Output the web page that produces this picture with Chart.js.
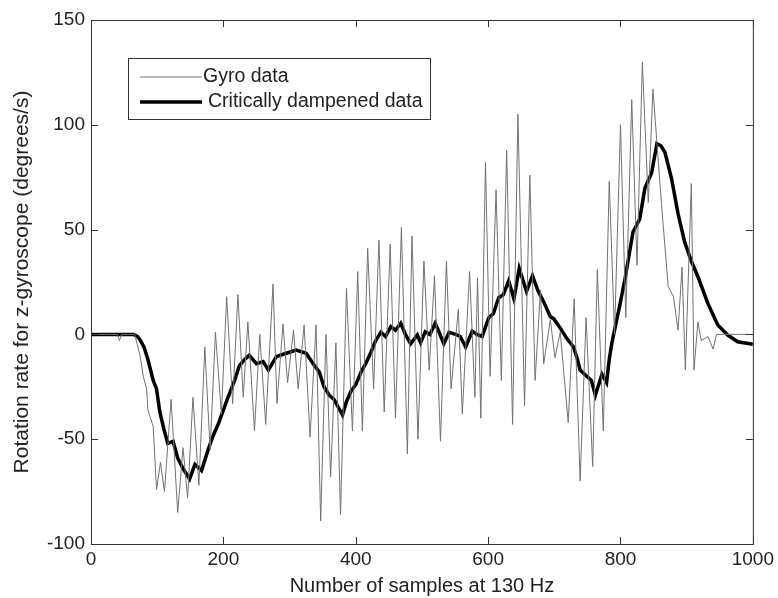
<!DOCTYPE html>
<html>
<head>
<meta charset="utf-8">
<script src="https://cdn.jsdelivr.net/npm/chart.js@4/dist/chart.umd.min.js"></script>
<style>
  body { margin: 0; background: #fff; }
  canvas { display: block; }
</style>
</head>
<body>
<canvas id="gyroChart" width="778" height="598"></canvas>
<script>
// Gyro readings (peaks / troughs)
const gyroSamples = [0, 40, 43, 46, 66, 74, 79, 84, 86, 94, 99, 105, 111, 121, 131, 139, 146, 154, 163, 172,
  180, 188, 197, 205, 214, 222, 230, 237, 247, 255, 264, 275, 281, 290, 297, 306, 313, 322, 331, 340,
  347, 355, 362, 370, 377, 386, 395, 403, 410, 418, 427, 435, 443, 452, 460, 469, 478, 485, 494, 503,
  511, 519, 528, 537, 544, 555, 561, 572, 580, 584, 589, 596, 603, 612, 620, 628, 637, 645, 655, 663,
  671, 679, 684, 694, 701, 709, 721, 730, 739, 748, 758, 765, 774, 783, 791, 800, 808, 817, 825, 833,
  842, 849, 862, 872, 880, 887, 893, 898, 907, 911, 917, 922, 932, 940, 945, 1000];
const gyroRate = [0, 0, -3, 0, 0, -10, -20, -26, -36, -44, -74, -61, -75, -31, -85, -54, -78, -30, -72, -6,
  -55, 1, -38, 18, -33, 19, -30, 6, -46, 0, -43, 24, -33, 5, -23, 2, -26, 4.5, -49, 4.5,
  -89, 0, -68, -4, -86, 22, -46, 30, -46, 41, -26, 45, -37, 43, -40, 51, -57, 47, -50, 35,
  -17, 28, -51, 35, -26, 12, -38, 30, -30, 27, -40, 82, -20, 69, -22, 88, -43, 105, -34, 76,
  -22, 21, -14, 7, -11, 1, -42, 17, -70, 8, -63, 31, -46, 73, 0, 100, 8, 112, 33, 130,
  63, 117, 62, 23, 18, 2, 32, -17, 72, -17, 6, -3, -1, -7, 0, 0];

// Critically dampened output
const dampSamples = [0, 64, 70, 74, 80, 86, 94, 99, 104, 110, 116, 124, 131, 139, 149, 157, 167, 177, 185, 192,
  199, 207, 217, 224, 232, 239, 250, 260, 268, 280, 295, 310, 325, 337, 345, 352, 360, 367, 374, 380,
  386, 393, 400, 408, 415, 423, 430, 438, 445, 453, 460, 468, 475, 483, 493, 498, 505, 512, 520, 526,
  533, 541, 551, 558, 566, 576, 583, 591, 601, 608, 616, 623, 631, 639, 647, 658, 667, 675, 684, 694,
  699, 709, 719, 729, 735, 739, 749, 756, 762, 767, 772, 779, 783, 787, 793, 799, 807, 813, 819, 829,
  837, 847, 855, 861, 867, 877, 887, 897, 907, 917, 932, 947, 962, 977, 1000];
const dampRate = [0, 0, -1, -2.5, -6, -12, -22, -26, -37, -45, -52, -51, -59, -64, -69, -62, -65, -55, -48, -43,
  -37, -30, -22, -15, -12, -10, -14, -13, -17, -10.6, -9, -7.5, -9, -14.6, -18, -25, -29, -31, -35, -38.5,
  -32, -27, -24, -18, -14, -8.5, -3, 1, -1, 3.7, 2, 5.3, 0, -4.5, -0.3, -4, 1.3, 0, 5.3, 1,
  -4.5, 1, 0, -1, -6, 1.5, 0, -1, 8, 10, 17.5, 19, 25.5, 17, 31.5, 20.5, 28, 21, 15.5, 8.4,
  7.5, 3, -2, -6, -12, -17, -20, -22, -29, -24, -19, -23, -12, -4, 5, 14, 26.8, 38, 49, 55,
  70, 77, 91, 90, 87, 74.5, 57.5, 44, 35, 27.5, 14.8, 4.5, -0.3, -3.5, -4.7];

const xTicks = [0, 200, 400, 600, 800, 1000];
const yTicks = [-100, -50, 0, 50, 100, 150];

const FONT = "'Liberation Sans', Arial, sans-serif";
const TEXT = '#222';

const toPoints = (xs, ys) => xs.map((x, i) => ({ x: x, y: ys[i] }));

// box round the plot plus inward ticks on all four sides
const frame = {
  id: 'frame',
  afterDraw(chart) {
    const { ctx, chartArea: a, scales } = chart;
    const len = 7;
    ctx.save();
    ctx.strokeStyle = '#333';
    ctx.lineWidth = 1;
    ctx.strokeRect(a.left + 0.5, a.top + 0.5, a.right - a.left, a.bottom - a.top);
    ctx.beginPath();
    xTicks.forEach(v => {
      const px = Math.round(scales.x.getPixelForValue(v)) + 0.5;
      ctx.moveTo(px, a.bottom); ctx.lineTo(px, a.bottom - len);
      ctx.moveTo(px, a.top); ctx.lineTo(px, a.top + len);
    });
    yTicks.forEach(v => {
      const py = Math.round(scales.y.getPixelForValue(v)) + 0.5;
      ctx.moveTo(a.left, py); ctx.lineTo(a.left + len, py);
      ctx.moveTo(a.right, py); ctx.lineTo(a.right - len, py);
    });
    ctx.stroke();

    // legend box, top left inside the plot
    const bx = 128, by = 58, bw = 302, bh = 61;
    ctx.fillStyle = '#fff';
    ctx.fillRect(bx, by, bw, bh);
    ctx.strokeStyle = '#333';
    ctx.strokeRect(bx + 0.5, by + 0.5, bw, bh);
    ctx.font = '19.5px ' + FONT;
    ctx.textBaseline = 'middle';
    ctx.fillStyle = TEXT;
    chart.data.datasets.forEach((ds, i) => {
      const y = 77 + i * 25;
      ctx.strokeStyle = ds.borderColor;
      ctx.lineWidth = ds.borderWidth;
      ctx.beginPath();
      ctx.moveTo(140, y); ctx.lineTo(202, y);
      ctx.stroke();
      ctx.fillText(ds.label, 203 + i * 5, y);
    });
    ctx.restore();
  }
};

new Chart(document.getElementById('gyroChart'), {
  type: 'line',
  data: {
    datasets: [
      {
        label: 'Gyro data',
        data: toPoints(gyroSamples, gyroRate),
        borderColor: '#727272',
        borderWidth: 1,
        pointRadius: 0,
        tension: 0
      },
      {
        label: 'Critically dampened data',
        data: toPoints(dampSamples, dampRate),
        borderColor: '#000',
        borderWidth: 3.5,
        pointRadius: 0,
        tension: 0
      }
    ]
  },
  options: {
    responsive: false,
    animation: false,
    layout: { padding: { left: 0, right: 23, top: 20, bottom: 0 } },
    plugins: { legend: { display: false }, tooltip: { enabled: false } },
    scales: {
      x: {
        type: 'linear',
        min: 0, max: 1000,
        grid: { display: false, drawTicks: false },
        border: { display: false },
        afterBuildTicks: s => { s.ticks = xTicks.map(v => ({ value: v })); },
        afterFit: s => { s.height = 54; },
        ticks: { color: TEXT, font: { family: FONT, size: 19 }, padding: 4, maxRotation: 0,
          callback: v => String(v) },
        title: {
          display: true, text: 'Number of samples at 130 Hz', color: TEXT,
          font: { family: FONT, size: 20 }, padding: { top: 0, bottom: 0 }
        }
      },
      y: {
        min: -100, max: 150,
        grid: { display: false, drawTicks: false },
        border: { display: false },
        afterBuildTicks: s => { s.ticks = yTicks.map(v => ({ value: v })); },
        afterFit: s => { s.width = 91; },
        ticks: { color: TEXT, font: { family: FONT, size: 19 }, padding: 6,
          callback: v => String(v) },
        title: {
          display: true, text: 'Rotation rate for z-gyroscope (degrees/s)', color: TEXT,
          font: { family: FONT, size: 21 }, padding: { top: 10, bottom: 0 }
        }
      }
    }
  },
  plugins: [frame]
});
</script>
</body>
</html>
